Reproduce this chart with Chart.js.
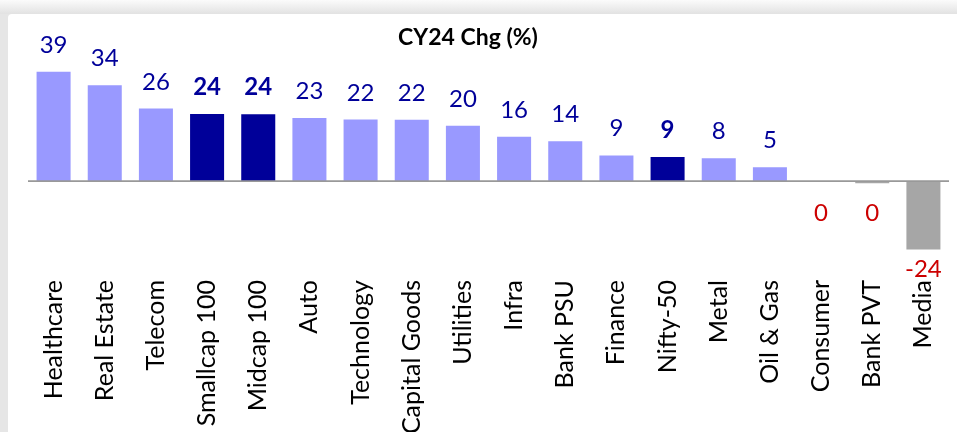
<!DOCTYPE html>
<html>
<head>
<meta charset="utf-8">
<script src="https://cdn.jsdelivr.net/npm/chart.js@4"></script>
<style>
  html, body { margin: 0; padding: 0; }
  body {
    width: 957px; height: 432px; overflow: hidden; position: relative;
    background: linear-gradient(#fbfbfb 0px, #e2e2e2 14px, #e6e6e6 14px);
  }
  #panel {
    position: absolute; left: 8px; top: 14px; right: 0; bottom: 0;
    background: #fff; border-top-left-radius: 4px;
  }
  #wrap { position: absolute; left: 0; top: 0; width: 957px; height: 432px; }
</style>
</head>
<body>
<div id="panel"></div>
<div id="wrap"><canvas id="myChart" width="957" height="432"></canvas></div>
<script>
// sector returns for calendar year 2024 (%)
const sectors = ["Healthcare", "Real Estate", "Telecom", "Smallcap 100", "Midcap 100", "Auto",
  "Technology", "Capital Goods", "Utilities", "Infra", "Bank PSU", "Finance", "Nifty-50",
  "Metal", "Oil & Gas", "Consumer", "Bank PVT", "Media"];
const changes = [39.1, 34.3, 26.0, 24.1, 24.0, 22.7, 22.1, 22.0, 19.9, 16.0, 14.4, 9.4, 8.8,
  8.4, 5.2, 0, -0.45, -24.0];
// broad market indices are highlighted in dark blue
const indices = ["Smallcap 100", "Midcap 100", "Nifty-50"];
const chartTitle = "CY24 Chg (%)";

const barColors = sectors.map((s, i) =>
  changes[i] <= 0 ? "#a6a6a6" : (indices.includes(s) ? "#000099" : "#9999ff"));

// draws the zero line, the value labels and the title
const extras = {
  id: "extras",
  afterDatasetsDraw(chart) {
    const ctx = chart.ctx;
    const area = chart.chartArea;
    const zero = chart.scales.y.getPixelForValue(0);
    ctx.save();
    ctx.strokeStyle = "#999999";
    ctx.lineWidth = 1.6;
    ctx.beginPath();
    ctx.moveTo(area.left, zero - 0.8);
    ctx.lineTo(area.right, zero - 0.8);
    ctx.stroke();

    const meta = chart.getDatasetMeta(0);
    ctx.textAlign = "center";
    ctx.textBaseline = "alphabetic";
    meta.data.forEach((bar, i) => {
      const v = changes[i];
      const bold = indices.includes(sectors[i]);
      ctx.font = (bold ? "bold " : "") + "24px Lato";
      let y;
      if (v > 0) {
        ctx.fillStyle = "#000099";
        y = bar.y - 19;
      } else {
        ctx.fillStyle = "#cc0000";
        y = Math.max(bar.y + 27, zero + 39);
      }
      ctx.fillText(String(Math.round(v)).replace("-0", "0"), bar.x, y);
    });

    ctx.fillStyle = "#000000";
    ctx.font = "bold 23px Lato";
    ctx.fillText(chartTitle, 468, 45);
    ctx.restore();
  }
};

const ctx = document.getElementById("myChart").getContext("2d");
const myChart = new Chart(ctx, {
  type: "bar",
  data: {
    labels: sectors,
    datasets: [{
      data: changes,
      backgroundColor: barColors,
      barPercentage: 0.665,
      categoryPercentage: 1,
    }],
  },
  options: {
    responsive: false,
    animation: false,
    layout: { padding: { left: 28, right: 8, top: 55, bottom: 0 } },
    plugins: { legend: { display: false }, tooltip: { enabled: false } },
    scales: {
      x: {
        grid: { display: false },
        border: { display: false },
        ticks: {
          color: "#000000",
          font: { family: "Lato", size: 25 },
          minRotation: 90,
          maxRotation: 90,
          autoSkip: false,
          padding: -3,
        },
        afterFit: (scale) => { scale.height = 157; },
      },
      y: {
        display: false,
        min: -33,
        max: 45,
      },
    },
  },
  plugins: [extras],
});
</script>
</body>
</html>
